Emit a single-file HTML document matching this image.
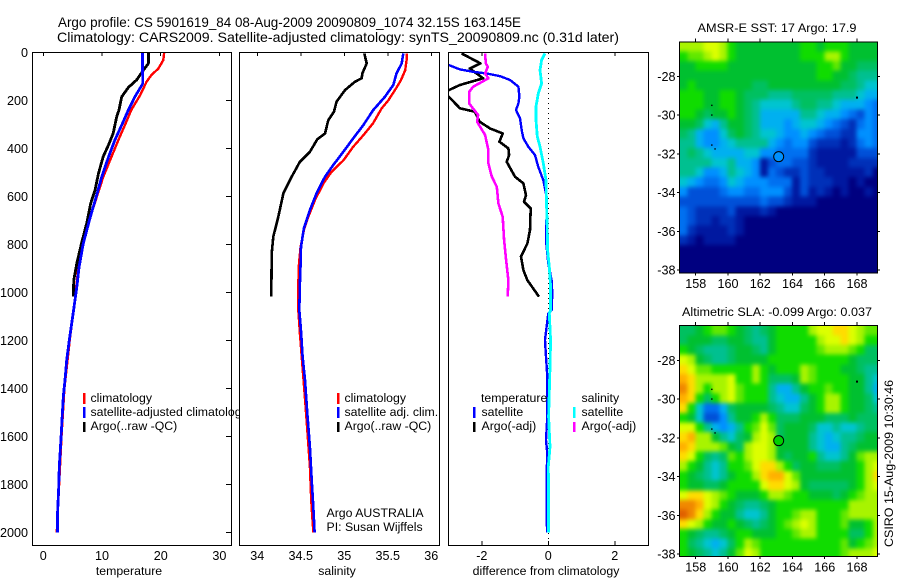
<!DOCTYPE html>
<html lang="en">
<head>
<meta charset="utf-8">
<title>Argo profile comparison</title>
<style>
html,body{margin:0;padding:0;background:#fff;width:900px;height:580px;overflow:hidden}
svg{display:block}
text{font-family:"Liberation Sans",Arial,sans-serif;fill:#000;font-size:12.3px}
.tick{font-size:12.6px}
.axis{fill:none;stroke:#000;stroke-width:1;shape-rendering:crispEdges}
</style>
</head>
<body>
<svg id="chart" xmlns="http://www.w3.org/2000/svg" width="900" height="580" viewBox="0 0 900 580">
<defs>
<clipPath id="clip-t"><rect x="32" y="52" width="200" height="494"/></clipPath>
<clipPath id="clip-s"><rect x="239" y="52" width="201" height="494"/></clipPath>
<clipPath id="clip-d"><rect x="448" y="52" width="201" height="494"/></clipPath>
<clipPath id="clip-m1"><rect x="679" y="42" width="199" height="231"/></clipPath>
<clipPath id="clip-m2"><rect x="679" y="325" width="199" height="231"/></clipPath>
<filter id="map-smooth" x="-5%" y="-5%" width="110%" height="110%" color-interpolation-filters="sRGB"><feGaussianBlur stdDeviation="2.2"/></filter>
</defs>
<rect width="900" height="580" fill="#fff"/>
<text x="58" y="27" style="font-size:14px" textLength="463" lengthAdjust="spacingAndGlyphs">Argo profile: CS 5901619_84 08-Aug-2009 20090809_1074 32.15S 163.145E</text>
<text x="57" y="42" style="font-size:14px" textLength="562" lengthAdjust="spacingAndGlyphs">Climatology: CARS2009. Satellite-adjusted climatology: synTS_20090809.nc (0.31d later)</text>

<g id="panel-t"></g>
<g>
<rect x="83" y="393" width="2.5" height="11" fill="#f00"/>
<rect x="83" y="407" width="2.5" height="11" fill="#00f"/>
<rect x="83" y="422" width="2.5" height="10" fill="#000"/>
<text x="90.5" y="402">climatology</text>
<text x="90.5" y="416">satellite-adjusted climatology</text>
<text x="90.5" y="430">Argo(..raw -QC)</text>
</g>

<rect x="239" y="52" width="201" height="494" fill="#fff"/>
<g id="panel-s"></g>
<g>
<rect x="337" y="393" width="2.5" height="11" fill="#f00"/>
<rect x="337" y="407" width="2.5" height="11" fill="#00f"/>
<rect x="337" y="422" width="2.5" height="10" fill="#000"/>
<text x="344.5" y="402">climatology</text>
<text x="344.5" y="416">satellite adj. clim.</text>
<text x="344.5" y="430">Argo(..raw -QC)</text>
<text x="326.5" y="517">Argo AUSTRALIA</text>
<text x="326.5" y="531">PI: Susan Wijffels</text>
</g>

<rect x="448" y="52" width="201" height="494" fill="#fff"/>
<g id="panel-d"></g>
<g>
<text x="481" y="402">temperature</text>
<rect x="473" y="407" width="2.5" height="11" fill="#00f"/>
<rect x="473" y="422" width="2.5" height="10" fill="#000"/>
<text x="481.5" y="416">satellite</text>
<text x="481.5" y="430">Argo(-adj)</text>
<text x="581.5" y="402">salinity</text>
<rect x="573" y="407" width="2.5" height="11" fill="#0ff"/>
<rect x="573" y="422" width="2.5" height="10" fill="#f0f"/>
<text x="581.5" y="416">satellite</text>
<text x="581.5" y="430">Argo(-adj)</text>
</g>

<text x="777" y="32" text-anchor="middle" textLength="159" lengthAdjust="spacingAndGlyphs">AMSR-E SST: 17 Argo: 17.9</text>
<g id="map-1"></g>
<text x="777" y="316" text-anchor="middle" textLength="190" lengthAdjust="spacingAndGlyphs">Altimetric SLA: -0.099 Argo: 0.037</text>
<g id="map-2"></g>
<text transform="translate(893,547) rotate(-90)" textLength="167" lengthAdjust="spacingAndGlyphs">CSIRO 15-Aug-2009 10:30:46</text>
</svg>

<script>
/* ---------- profile data ---------- */
const depthTicks = [0,200,400,600,800,1000,1200,1400,1600,1800,2000];
const tempTicks = [0,10,20,30];
const salTicks = [34,34.5,35,35.5,36];
const diffTicks = [-2,0,2];

const climTempDepth = [0,32,67,95,122,178,240,303,365,436,519,603,686,797,894,978,1027,1200,1400,1600,1800,2000];
const climTemp = [20.6,20.45,19.6,18.4,17.6,16.5,15.0,13.9,12.8,11.6,10.2,9.1,8.0,6.8,6.0,5.6,5.4,4.5,3.6,3.1,2.7,2.3];
const satTempDepth = [0,60,130,185,240,303,365,436,519,603,686,797,894,978,1032,1129,1199,1282,1365,1435,1532,1615,1726,1824,1935,2000];
const satTemp = [16.9,16.9,16.95,15.6,14.5,13.35,12.2,11.1,9.95,9,8,6.8,6.1,5.7,5.4,4.83,4.43,3.98,3.69,3.4,3.18,3.0,2.73,2.6,2.4,2.4];
const argoTempDepth = [0,46,74,115,146,185,240,268,337,386,434,504,574,629,712,796,879,949,1018];
const argoTemp = [17.9,17.9,17.05,15.9,14.5,13.35,12.9,12.5,11.9,11.1,10.2,9.4,8.8,8.07,7.4,6.5,5.7,5.2,5.1];

const climSalDepth = [4,32,74,117,158,200,233,296,345,394,450,497,546,615,685,740,810,879,963,1074,1171,1310,1449,1574,1726,1865,1956,2000];
const climSal = [35.716,35.716,35.70,35.65,35.58,35.506,35.43,35.33,35.22,35.1,34.99,34.854,34.76,34.663,34.586,34.536,34.498,34.479,34.471,34.471,34.49,34.52,34.55,34.575,34.605,34.62,34.636,34.645];
const satSalDepth = [4,46,88,136,185,240,303,358,414,469,518,587,657,733,810,879,963,1074,1160,1268,1365,1504,1643,1782,1893,2000];
const satSal = [35.678,35.66,35.6,35.563,35.467,35.333,35.218,35.103,34.989,34.874,34.778,34.682,34.605,34.536,34.502,34.498,34.49,34.483,34.502,34.521,34.548,34.575,34.605,34.625,34.644,34.659];
const argoSalDepth = [4,46,88,108,122,157,205,248,282,338,362,414,456,518,587,685,768,838,1018];
const argoSal = [35.23,35.257,35.207,35.2,35.123,35.008,34.912,34.881,34.816,34.778,34.69,34.605,34.49,34.395,34.3,34.241,34.184,34.165,34.161];

const satTempDiffDepth = [53,71,81,88,99,115,143,185,213,240,275,324,358,393,428,477,532,588,671,782,879,949,1004,1074,1088,1143,1199,1268,1351,1518,1615,1671,1768,1949,2000];
const satTempDiff = [-2.99,-2.66,-2.26,-1.85,-1.45,-1.15,-0.9,-0.87,-0.9,-0.97,-0.85,-0.8,-0.75,-0.6,-0.4,-0.3,-0.15,-0.07,-0.05,-0.07,0,0.1,0.12,0.1,0,-0.05,-0.1,-0.07,-0.03,-0.03,-0.07,-0.03,-0.05,-0.05,-0.03];
const argoTempDiffDepth = [4,46,67,108,136,157,171,185,233,247,289,317,338,372,400,428,456,518,546,595,622,650,740,796,851,907,949,1018];
const argoTempDiff = [-2.61,-2.04,-2.36,-1.96,-2.66,-2.99,-3.16,-2.99,-2.66,-2.21,-2.06,-1.75,-1.37,-1.47,-1.2,-1.18,-1.25,-1.0,-0.75,-0.67,-0.73,-0.53,-0.55,-0.63,-0.82,-0.75,-0.63,-0.28];
const satSalDiffDepth = [4,32,74,129,171,226,282,351,393,462,532,643,740,824,893,976,1074,1088,1199,1310,1518,1643,1726,1865,2000];
const satSalDiff = [-0.1,-0.2,-0.25,-0.2,-0.3,-0.37,-0.37,-0.33,-0.25,-0.15,-0.07,-0.05,-0.03,-0.02,0.03,0.07,0.07,0.03,0.07,0.05,0.01,0.05,0,0.01,0.01];
const argoSalDiffDepth = [4,46,60,88,108,143,164,213,261,289,344,407,463,518,560,629,685,782,865,949,1018];
const argoSalDiff = [-1.9,-1.88,-1.82,-1.9,-1.8,-2.26,-2.38,-2.38,-2.11,-2.14,-1.9,-1.8,-1.8,-1.7,-1.55,-1.5,-1.37,-1.33,-1.27,-1.2,-1.22];

/* ---------- map data: colour-level grids, 0.5 degree cells, north to south ---------- */
const lonTicks = [158,160,162,164,166,168];
const latTicks = [28,30,32,34,36,38];
const profileLon = 163.145;
const profileLat = 32.15;
const islandLon = [168,159,159,159,159.2];
const islandLat = [29.1,29.5,30,31.55,31.75];

const sstLevels = [
[13,13,13,14,14,13,11,10,10,10,10,10,10,10,10,11,11,10,11,11,11,10,10,10,10],
[11,12,12,13,14,13,11,10,10,10,10,10,10,10,10,11,11,11,13,13,11,10,10,10,10],
[10,10,11,11,11,11,10,10,10,10,10,10,10,10,10,10,10,11,11,12,10,10,9,9,9],
[10,10,10,10,10,10,10,10,10,10,10,10,10,10,10,10,10,11,11,10,10,9,8,8,8],
[10,11,10,10,10,10,10,10,10,9,9,10,10,10,10,10,10,10,10,10,9,9,8,7,7],
[11,11,11,10,10,11,11,10,9,9,9,8,8,8,9,9,9,9,9,8,8,8,7,6,6],
[11,11,11,10,10,11,11,10,9,8,7,7,7,7,8,9,9,8,8,7,6,6,6,5,4],
[11,11,10,9,10,10,11,10,9,8,6,6,6,6,6,8,8,7,6,6,5,4,3,5,4],
[10,10,9,7,6,8,10,10,9,8,6,6,6,5,6,7,7,6,5,4,3,2,4,5,4],
[9,8,6,5,5,7,9,10,9,8,7,7,6,5,5,6,5,4,3,3,2,2,5,5,4],
[8,8,6,5,5,6,7,8,8,8,8,6,5,4,5,5,3,2,2,2,1,2,4,5,4],
[8,9,8,7,6,6,6,6,7,7,5,5,4,4,4,4,2,1,1,1,1,1,3,3,3],
[8,8,8,8,7,7,8,6,6,5,1,3,4,4,3,3,2,1,1,1,1,2,2,2,2],
[8,8,7,5,5,6,8,7,6,5,1,4,3,2,2,3,2,2,1,1,1,1,1,2,0],
[7,6,5,4,4,5,7,6,5,5,5,4,4,4,1,3,2,2,2,1,1,0,1,0,0],
[5,3,3,3,3,4,5,5,4,4,5,5,5,3,1,3,1,2,1,0,1,0,0,1,0],
[3,3,3,3,3,3,3,3,3,3,4,3,3,2,1,1,1,0,0,0,0,0,0,0,0],
[4,3,2,2,2,2,3,1,1,1,2,1,0,0,0,0,0,0,0,0,0,0,0,0,0],
[4,3,2,2,1,2,2,1,0,0,0,0,0,0,0,0,0,0,0,0,0,0,0,0,0],
[4,2,1,1,1,1,2,1,0,0,0,0,0,0,0,0,0,0,0,0,0,0,0,0,0],
[2,1,0,1,1,1,1,0,0,0,0,0,0,0,0,0,0,0,0,0,0,0,0,0,0],
[0,0,0,0,0,0,0,0,0,0,0,0,0,0,0,0,0,0,0,0,0,0,0,0,0],
[0,0,0,0,0,0,0,0,0,0,0,0,0,0,0,0,0,0,0,0,0,0,0,0,0],
[0,0,0,0,0,0,0,0,0,0,0,0,0,0,0,0,0,0,0,0,0,0,0,0,0]
];
const slaLevels = [
[9,9,10,11,12,12,11,10,9,8,9,10,11,11,11,11,13,14,14,15,15,14,13,12,12],
[9,10,10,10,9,9,10,10,9,8,8,10,11,11,11,11,11,13,14,14,15,14,13,11,11],
[11,10,9,8,8,8,9,10,10,9,8,10,11,11,11,11,11,12,13,13,13,12,11,9,9],
[14,13,10,9,8,8,9,10,10,10,10,11,11,11,11,11,11,11,11,11,11,10,9,9,9],
[15,14,12,12,11,11,11,11,11,13,11,10,11,11,11,13,12,11,11,11,10,10,9,8,8],
[16,15,13,13,13,13,14,11,11,13,11,9,9,9,10,13,12,11,11,11,11,10,10,8,7],
[17,15,13,11,13,13,14,12,11,11,11,8,6,6,8,10,11,11,12,11,11,10,10,8,6],
[16,15,11,9,11,13,14,12,11,11,11,8,7,6,6,8,10,11,13,13,11,10,10,9,7],
[15,11,7,4,4,6,9,10,10,10,10,9,8,7,7,9,10,11,13,13,11,10,10,9,8],
[11,10,7,3,3,5,8,10,10,11,13,11,9,9,9,10,10,10,9,9,9,10,9,9,9],
[14,14,11,8,6,5,6,8,11,12,14,12,9,10,10,10,9,7,7,8,7,7,8,9,9],
[15,16,13,13,10,8,7,9,10,13,14,13,9,10,10,10,8,7,6,7,8,8,9,10,10],
[16,15,13,13,13,12,10,9,13,14,14,13,10,10,10,10,8,7,6,6,8,9,10,10,10],
[15,14,11,9,8,9,12,11,13,14,14,13,10,9,10,10,11,8,7,7,8,10,12,13,13],
[13,11,10,8,7,8,11,11,12,14,15,15,13,11,9,10,10,9,9,9,10,10,11,13,14],
[11,10,9,8,7,8,10,11,11,13,15,16,16,14,12,10,10,10,10,10,10,10,11,13,15],
[11,10,10,9,9,10,11,11,11,11,14,15,15,14,13,10,9,9,9,9,9,10,11,13,14],
[14,15,15,14,13,12,11,10,10,10,11,13,13,12,11,11,10,10,10,9,10,11,12,13,13],
[17,17,16,14,13,11,10,9,8,8,9,10,11,11,11,11,11,11,11,11,11,13,13,13,13],
[18,17,15,13,11,10,10,8,7,7,8,10,11,11,12,13,13,11,11,11,12,13,13,13,13],
[15,14,13,11,10,10,11,10,9,8,9,10,11,12,13,14,13,11,11,11,12,10,10,11,13],
[11,10,9,8,8,9,10,11,11,10,10,10,11,11,12,13,13,11,11,11,11,9,9,11,13],
[11,9,8,7,6,7,9,11,13,12,11,11,11,11,11,11,11,11,11,11,12,10,11,12,13],
[11,10,9,8,7,8,10,12,14,13,11,11,11,11,11,11,11,11,11,11,12,13,13,13,14]
];

/* ---------- rendering ---------- */
const NS = 'http://www.w3.org/2000/svg';
const levelColor = ['#000080','#0018a0','#0030b8','#0050d8','#0070f0','#0090ff','#00b0f0','#00c4d0','#00c090','#00c060','#00c030','#10dc00','#60e800','#a8f400','#dcff00','#ffdc00','#ffb000','#f08800','#e06000'];

function make(tag, parent) {
  const el = document.createElementNS(NS, tag);
  parent.appendChild(el);
  return el;
}
const depthY = d => 52.4 + d * 0.24;
const tempX = v => 43.3 + v * 5.87;
const salX = v => 257.3 + (v - 34) * 87;
const diffX = v => 548.3 + v * 33.25;

function drawFrame(parent, x, y, w, h) {
  const r = make('rect', parent);
  
  
  r.setAttribute('x', x); r.setAttribute('y', y);
  r.setAttribute('width', w); r.setAttribute('height', h);
  r.setAttribute('class', 'axis');
}
function drawLine(parent, name, xs, ds, xf, color, width, clip) {
  const p = make('polyline', parent);
  
  
  p.setAttribute('points', xs.map((v, i) => xf(v).toFixed(1) + ',' + depthY(ds[i]).toFixed(1)).join(' '));
  p.setAttribute('fill', 'none');
  p.setAttribute('stroke', color);
  p.setAttribute('stroke-width', width);
  p.setAttribute('stroke-linejoin', 'round');
  p.setAttribute('shape-rendering', 'crispEdges');
  p.setAttribute('clip-path', 'url(#' + clip + ')');
}
function drawXAxis(parent, ticks, xf, label, labelX, name, bottom) {
  ticks.forEach(v => {
    if (!(bottom && v === 0)) {
      const t = make('line', parent);
      
      
      t.setAttribute('x1', xf(v)); t.setAttribute('x2', xf(v));
      t.setAttribute('y1', 52); t.setAttribute('y2', 56);
      t.setAttribute('class', 'axis');
    }
    if (bottom) {
      const b = make('line', parent);
      
      
      b.setAttribute('x1', xf(v)); b.setAttribute('x2', xf(v));
      b.setAttribute('y1', 541); b.setAttribute('y2', 545);
      b.setAttribute('class', 'axis');
    }
    const s = make('text', parent);
    
    
    s.setAttribute('x', xf(v)); s.setAttribute('y', 560);
    s.setAttribute('text-anchor', 'middle');
    s.setAttribute('class', 'tick');
    s.textContent = String(v);
  });
  const l = make('text', parent);
  
  
  l.setAttribute('x', labelX); l.setAttribute('y', 575);
  l.setAttribute('text-anchor', 'middle');
  l.textContent = label;
}

/* temperature panel */
const pT = document.getElementById('panel-t');
drawLine(pT, 'climatology-temperature-line', climTemp, climTempDepth, tempX, '#f00', 2.4, 'clip-t');
drawLine(pT, 'argo-temperature-line', argoTemp, argoTempDepth, tempX, '#000', 2.8, 'clip-t');
drawLine(pT, 'satellite-adjusted-temperature-line', satTemp, satTempDepth, tempX, '#00f', 2.8, 'clip-t');
drawFrame(pT, 32.5, 52.5, 199, 493);
depthTicks.forEach(d => {
  const t = make('line', pT);
  
  
  t.setAttribute('x1', 226); t.setAttribute('x2', 231.5);
  t.setAttribute('y1', depthY(d)); t.setAttribute('y2', depthY(d));
  t.setAttribute('class', 'axis');
  const s = make('text', pT);
  
  
  s.setAttribute('x', 28); s.setAttribute('y', depthY(d) + 4.5);
  s.setAttribute('text-anchor', 'end');
  s.setAttribute('class', 'tick');
  s.textContent = String(d);
});
drawXAxis(pT, tempTicks, tempX, 'temperature', 129, 'temperature-axis', false);

/* salinity panel */
const pS = document.getElementById('panel-s');
drawLine(pS, 'argo-salinity-line', argoSal, argoSalDepth, salX, '#000', 2.6, 'clip-s');
drawLine(pS, 'climatology-salinity-line', climSal, climSalDepth, salX, '#f00', 2.4, 'clip-s');
drawLine(pS, 'satellite-adjusted-salinity-line', satSal, satSalDepth, salX, '#00f', 2.6, 'clip-s');
drawFrame(pS, 239.5, 52.5, 200, 493);
drawXAxis(pS, salTicks, salX, 'salinity', 337, 'salinity-axis', false);

/* difference panel */
const pD = document.getElementById('panel-d');
const zero = make('line', pD);


zero.setAttribute('x1', diffX(0)); zero.setAttribute('x2', diffX(0));
zero.setAttribute('y1', 53); zero.setAttribute('y2', 545);
zero.setAttribute('stroke', '#000');
zero.setAttribute('stroke-width', 1);
zero.setAttribute('stroke-dasharray', '1 4');
zero.setAttribute('shape-rendering', 'crispEdges');
drawLine(pD, 'argo-temperature-difference-line', argoTempDiff, argoTempDiffDepth, diffX, '#000', 2.6, 'clip-d');
drawLine(pD, 'satellite-temperature-difference-line', satTempDiff, satTempDiffDepth, diffX, '#00f', 2.4, 'clip-d');
drawLine(pD, 'satellite-salinity-difference-line', satSalDiff, satSalDiffDepth, diffX, '#0ff', 2.8, 'clip-d');
drawLine(pD, 'argo-salinity-difference-line', argoSalDiff, argoSalDiffDepth, diffX, '#f0f', 2.6, 'clip-d');
drawFrame(pD, 448.5, 52.5, 200, 493);
drawXAxis(pD, diffTicks, diffX, 'difference from climatology', 546, 'difference-axis', true);

/* maps */
const lonX = lon => 695.7 + (lon - 158) * 16.13;
function drawMap(gid, levels, latY, top, clip, circleFill, prefix) {
  const g = document.getElementById(gid);
  const wrap = make('g', g);
  
  
  wrap.setAttribute('clip-path', 'url(#' + clip + ')');
  const field = make('g', wrap);
  
  
  field.setAttribute('filter', 'url(#map-smooth)');
  const cellW = 8.07, cellH = 9.69, pad = 16;
  const lastR = levels.length - 1;
  levels.forEach((row, r) => {
    const lastC = row.length - 1;
    row.forEach((lev, c) => {
      const lonL = 156.98 + c * 0.5;
      const latT = 26.21 + r * 0.5;
      const padL = c === 0 ? pad : 0, padR = c === lastC ? pad : 0;
      const padT = r === 0 ? pad : 0, padB = r === lastR ? pad : 0;
      const cell = make('rect', field);
      
      
      cell.setAttribute('x', lonX(lonL) - padL);
      cell.setAttribute('y', latY(latT) - padT);
      cell.setAttribute('width', cellW + 0.4 + padL + padR);
      cell.setAttribute('height', cellH + 0.4 + padT + padB);
      cell.setAttribute('fill', levelColor[Math.max(0, Math.min(levelColor.length - 1, Math.round(lev)))]);
      cell.setAttribute('shape-rendering', 'crispEdges');
    });
  });
  islandLon.forEach((lon, i) => {
    const m = make('rect', g);
    
    
    const big = i === 0 ? 2 : 1.4;
    m.setAttribute('x', lonX(lon) - big / 2);
    m.setAttribute('y', latY(islandLat[i]) - big / 2);
    m.setAttribute('width', big);
    m.setAttribute('height', big);
    m.setAttribute('fill', '#000');
  });
  drawFrame(g, 679.5, top + 0.5, 198, 231);
  const bottom = top + 231;
  lonTicks.forEach(lon => {
    [[top - 3, top], [bottom + 1, bottom + 3]].forEach(pair => {
      const t = make('line', g);
      
      
      t.setAttribute('x1', lonX(lon)); t.setAttribute('x2', lonX(lon));
      t.setAttribute('y1', pair[0]); t.setAttribute('y2', pair[1]);
      t.setAttribute('class', 'axis');
    });
    const s = make('text', g);
    
    
    s.setAttribute('x', lonX(lon)); s.setAttribute('y', bottom + 15.5);
    s.setAttribute('text-anchor', 'middle');
    s.setAttribute('class', 'tick');
    s.textContent = String(lon);
  });
  latTicks.forEach(lat => {
    const t = make('line', g);
    
    
    t.setAttribute('x1', 878); t.setAttribute('x2', 880);
    t.setAttribute('y1', latY(lat)); t.setAttribute('y2', latY(lat));
    t.setAttribute('class', 'axis');
    const tl = make('line', g);
    
    
    tl.setAttribute('x1', 677); tl.setAttribute('x2', 679);
    tl.setAttribute('y1', latY(lat)); tl.setAttribute('y2', latY(lat));
    tl.setAttribute('class', 'axis');
    const s = make('text', g);
    
    
    s.setAttribute('x', 675.5); s.setAttribute('y', latY(lat) + 4.5);
    s.setAttribute('text-anchor', 'end');
    s.setAttribute('class', 'tick');
    s.textContent = '-' + lat;
  });
  const c = make('circle', g);
  
  
  c.setAttribute('cx', lonX(profileLon));
  c.setAttribute('cy', latY(profileLat));
  c.setAttribute('r', 5);
  c.setAttribute('fill', circleFill);
  c.setAttribute('stroke', '#000');
  c.setAttribute('stroke-width', 1);
}
drawMap('map-1', sstLevels, lat => 76.3 + (lat - 28) * 19.37, 41.5, 'clip-m1', '#0090ff', 'sst-map');
drawMap('map-2', slaLevels, lat => 360.3 + (lat - 28) * 19.37, 325, 'clip-m2', '#00d000', 'sla-map');
</script>
</body>
</html>
